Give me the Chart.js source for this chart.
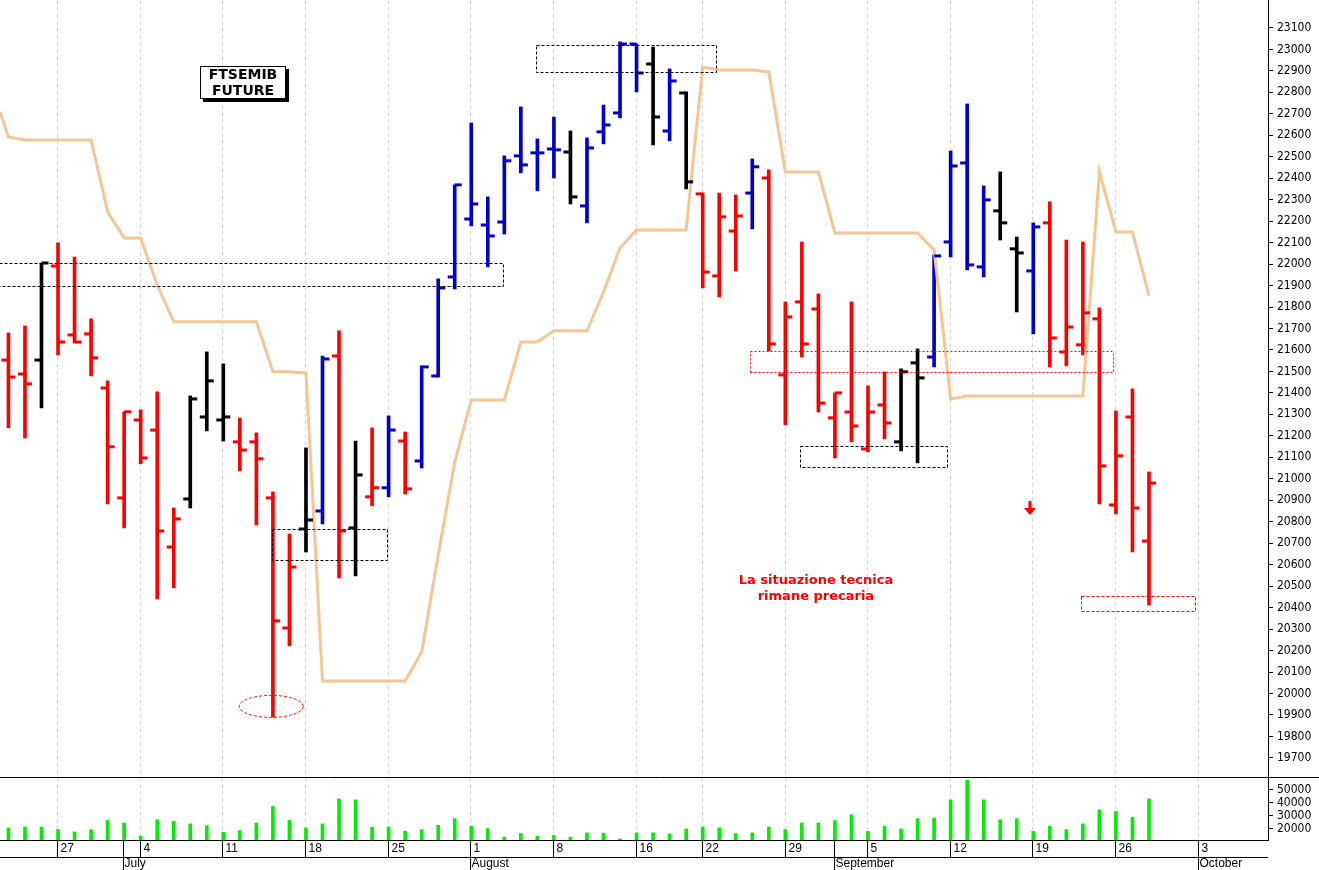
<!DOCTYPE html>
<html>
<head>
<meta charset="utf-8">
<script src="https://cdn.jsdelivr.net/npm/chart.js@4/dist/chart.umd.min.js"></script>
<style>
  body { margin:0; background:#fff; }
  #wrap { position:relative; width:1319px; height:870px; }
  canvas { position:absolute; left:0; display:block; }
</style>
</head>
<body>
<div id="wrap">
  <canvas id="price" width="1319" height="777" style="top:0"></canvas>
  <canvas id="vol" width="1319" height="93" style="top:777px"></canvas>
</div>
<script>
// daily bars, index 0 = 22 June (trading days only)
const opens  = [21553,21488,21553,21991,21670,21675,21423,20911,21274,21227,20682,20906,21288,21274,21172,21172,20911,20305,20766,20850,
                21572,20771,20916,20958,21176,21083,21479,21940,22210,22182,22196,22504,22518,22536,22522,22271,22616,22704,23025,22932,
                22620,22797,22327,21945,22154,22331,22401,21484,21824,21791,21284,21311,21139,21344,21172,21540,21567,22103,22471,21987,
                22248,22071,21968,22192,21591,21624,21745,20878,21288,20710];
const highs  = [21679,21712,22005,22099,22033,21745,21456,21312,21321,21405,20864,21386,21591,21535,21283,21214,20939,20743,21144,21572,
                21689,21176,21237,21293,21218,21526,21931,22369,22657,22313,22504,22732,22583,22685,22620,22588,22741,23035,23025,23011,
                22909,22802,22331,22331,22322,22490,22439,21824,22103,21861,21400,21824,21433,21498,21512,21605,22043,22527,22746,22364,
                22429,22126,22192,22290,22112,22103,21796,21316,21419,21032];
const lows   = [21237,21190,21330,21577,21633,21479,20883,20771,21070,20441,20492,20864,21223,21176,21037,20785,19890,20222,20659,20790,
                20538,20547,20874,20916,20929,21050,21474,21884,22178,21987,22140,22425,22341,22401,22280,22192,22560,22681,22802,22555,
                22574,22350,21889,21847,21968,22164,21595,21251,21567,21311,21097,21172,21125,21186,21130,21074,21521,22033,21973,21940,
                22112,21777,21675,21521,21526,21577,20883,20836,20659,20412];
const closes = [21474,21442,22005,21637,21637,21563,21149,21312,21097,20757,20813,21372,21456,21288,21134,21093,20338,20589,20808,21558,
                20757,21018,20958,21227,20953,21521,21889,22369,22280,22131,22481,22462,22518,22532,22313,22541,22648,23025,22890,22685,
                22853,22383,21963,22220,22224,22453,21628,21754,21628,21353,21400,21246,21311,21260,21498,21470,22038,22457,21996,22299,
                22192,22052,22173,21656,21707,21773,21060,21107,20864,20980];
// r = red, b = blue, k = black
const barColors = ('rrkrrrrrrrr' + 'kkk' + 'rrrr' + 'kbrkrbr' + 'bbbbbbbbb' + 'k' + 'bbbb' + 'kbk' + 'rrrb' +
                   'rrrrrrrr' + 'kk' + 'bbbb' + 'kk' + 'b' + 'rrrrrrr').split('');
const volumes = [20800,21500,21500,19500,17700,19500,26600,24600,14500,27100,25900,23900,22600,17400,18700,24600,37300,26600,20800,23900,
                 43100,42400,21300,21500,18200,19500,22800,27900,22100,20300,13700,16500,14500,15000,13700,17000,16800,12400,17000,17000,
                 16200,20000,21500,20800,16500,17000,21500,19500,24600,24600,26400,30900,18200,22100,20000,27900,28400,42400,57600,42400,
                 27100,27900,18200,22100,19500,23900,34800,33500,28900,43100];
// stop line (orange)
const stopLead = 22709;
const stopLine = [22592,22578,22578,22578,22578,22578,22243,22122,22122,21903,21731,21731,21731,21731,21731,21731,21498,21498,21493,20058,
                  20058,20058,20058,20058,20058,20193,20645,21078,21367,21367,21367,21637,21637,21689,21689,21689,21870,22075,22159,22159,
                  22159,22159,22918,22904,22904,22904,22895,22429,22429,22429,22145,22145,22145,22145,22145,22145,22066,21372,21386,21386,
                  21386,21386,21386,21386,21386,21386,22429,22150,22150,21852];
// week ticks on the date axis
const weekIdx    = [3,8,13,18,23,28,33,38,42,47,52,57,62,67,72];
const weekLabels = ['27','4','11','18','25','1','8','16','22','29','5','12','19','26','3'];
const monthIdx    = [7,28,50,72];
const monthLabels = ['July','August','September','October'];

const colorMap = { r:'#ff0000', b:'#0000cc', k:'#000000' };
const X_MIN = -0.51, X_MAX = 76.2;
const AXIS_FONT = { family:'"Liberation Sans Narrow", "DejaVu Sans Condensed", Arial', size:12 };

function fixWidth(scale){ scale.width = 51; scale.paddingTop = 0; scale.paddingBottom = 0; }
const plainNum = v => String(v);

const ohlcTicks = {
  id:'ohlcTicks',
  afterDatasetsDraw(chart){
    const ctx = chart.ctx, xs = chart.scales.x, ys = chart.scales.y;
    ctx.save();
    ctx.lineWidth = 3;
    for (let i = 0; i < opens.length; i++){
      const x = xs.getPixelForValue(i);
      ctx.strokeStyle = colorMap[barColors[i]];
      let yo = ys.getPixelForValue(opens[i]), yc = ys.getPixelForValue(closes[i]);
      ctx.beginPath(); ctx.moveTo(x-7,yo); ctx.lineTo(x,yo); ctx.stroke();
      ctx.beginPath(); ctx.moveTo(x,yc); ctx.lineTo(x+7,yc); ctx.stroke();
    }
    ctx.restore();
  }
};

// dashed week lines behind the marks (both panels)
const weekGrid = {
  id:'weekGrid',
  beforeDatasetsDraw(chart){
    const ctx = chart.ctx, xs = chart.scales.x, a = chart.chartArea;
    ctx.save();
    ctx.strokeStyle = '#d8d8d8'; ctx.lineWidth = 1; ctx.setLineDash([4,3]);
    weekIdx.forEach(i => {
      const x = Math.round(xs.getPixelForValue(i - 0.05)) + 0.5;
      ctx.beginPath(); ctx.moveTo(x,a.top); ctx.lineTo(x,a.bottom); ctx.stroke();
    });
    ctx.restore();
  }
};

const notes = {
  id:'notes',
  afterDraw(chart){
    const ctx = chart.ctx, xs = chart.scales.x, ys = chart.scales.y;
    const px = v => xs.getPixelForValue(v), py = v => ys.getPixelForValue(v);
    ctx.save();
    function box(i0,i1,p0,p1,color,dash){
      ctx.strokeStyle = color; ctx.lineWidth = 1; ctx.setLineDash(dash);
      ctx.strokeRect(Math.round(px(i0))+0.5, Math.round(py(p0))+0.5, Math.round(px(i1)-px(i0)), Math.round(py(p1)-py(p0)));
    }
    box(-0.6,29.9,22005,21898,'#000',[3,2]);
    box(15.95,22.9,20766,20622,'#000',[3,2]);
    box(31.9,42.8,23020,22895,'#000',[3,2]);
    box(47.9,56.8,21153,21055,'#000',[3,2]);
    box(64.9,71.8,20455,20385,'#ff0000',[3,2]);
    // support band
    ctx.setLineDash([2,2]); ctx.lineWidth = 1;
    let xa = Math.round(px(44.85))+0.5, xb = Math.round(px(66.85))+0.5;
    let yg = Math.round(py(21595))+0.5, yr = Math.round(py(21498))+0.5;
    ctx.strokeStyle = '#008800';
    ctx.beginPath(); ctx.moveTo(xa,yg); ctx.lineTo(xb,yg); ctx.stroke();
    ctx.strokeStyle = '#ff0000';
    ctx.beginPath(); ctx.moveTo(xa,yr); ctx.lineTo(xa,yg); ctx.moveTo(xa,yr); ctx.lineTo(xb,yr); ctx.lineTo(xb,yg); ctx.stroke();
    // ellipse around the low
    ctx.strokeStyle = '#ff0000'; ctx.setLineDash([3,2]);
    ctx.beginPath(); ctx.ellipse(px(15.9), py(19940), 32, 11, 0, 0, Math.PI*2); ctx.stroke();
    // arrow
    ctx.setLineDash([]); ctx.fillStyle = '#ff0000';
    const ax = px(61.8), ay = py(20850);
    ctx.fillRect(ax-1.5, ay-10, 3, 8);
    ctx.beginPath(); ctx.moveTo(ax-6,ay-3); ctx.lineTo(ax+6,ay-3); ctx.lineTo(ax,ay+4); ctx.closePath(); ctx.fill();
    // comment
    ctx.font = 'bold 13px "DejaVu Sans", Verdana'; ctx.textAlign = 'center'; ctx.textBaseline = 'middle';
    ctx.fillText('La situazione tecnica', px(48.85), py(20525));
    ctx.fillText('rimane precaria', px(48.85), py(20450));
    // title box
    ctx.fillStyle = '#000'; ctx.fillRect(203, 69, 86, 33);
    ctx.fillStyle = '#fff'; ctx.fillRect(200, 66, 86, 33);
    ctx.strokeStyle = '#000'; ctx.strokeRect(200.5, 66.5, 85, 32);
    ctx.fillStyle = '#000'; ctx.font = 'bold 14px "DejaVu Sans", Verdana';
    ctx.fillText('FTSEMIB', 243, 75);
    ctx.fillText('FUTURE', 243, 91);
    ctx.restore();
  }
};

const priceChart = new Chart(document.getElementById('price'), {
  type:'bar',
  data:{
    datasets:[
      { type:'line', order:0,
        data:[{x:X_MIN,y:stopLead}].concat(stopLine.map((v,i)=>({x:i,y:v}))),
        borderColor:'#f5c693', borderWidth:3, pointRadius:0, tension:0 },
      { type:'bar', order:1,
        data:highs.map((h,i)=>({x:i,y:[lows[i],h]})),
        backgroundColor:barColors.map(c=>colorMap[c]),
        barThickness:3, borderSkipped:false }
    ]
  },
  options:{
    responsive:false, animation:false, devicePixelRatio:1,
    layout:{ padding:0 },
    plugins:{ legend:{display:false}, tooltip:{enabled:false} },
    scales:{
      x:{ type:'linear', min:X_MIN, max:X_MAX, offset:false, display:false },
      y:{ position:'right', min:19611, max:23230,
          afterFit:fixWidth,
          afterBuildTicks(s){ const t=[]; for(let v=19700; v<=23100; v+=100) t.push({value:v}); s.ticks=t; },
          ticks:{ color:'#000', font:AXIS_FONT, padding:4, callback:plainNum },
          grid:{ drawOnChartArea:false, tickLength:5, color:'#000' },
          border:{ display:true, color:'#000' } }
    }
  },
  plugins:[weekGrid, ohlcTicks, notes]
});

const dateAxis = {
  id:'dateAxis',
  afterDraw(chart){
    const ctx = chart.ctx, xs = chart.scales.x, a = chart.chartArea;
    ctx.save();
    ctx.strokeStyle = '#000'; ctx.lineWidth = 1;
    ctx.beginPath(); ctx.moveTo(0,0.5); ctx.lineTo(1319,0.5); ctx.stroke();
    ctx.beginPath(); ctx.moveTo(0,a.bottom+0.5); ctx.lineTo(a.right,a.bottom+0.5); ctx.stroke();
    ctx.beginPath(); ctx.moveTo(0,a.bottom+17.5); ctx.lineTo(a.right,a.bottom+17.5); ctx.stroke();
    ctx.fillStyle = '#000'; ctx.font = '12px "Liberation Sans Narrow", Arial'; ctx.textBaseline = 'middle'; ctx.textAlign = 'left';
    weekIdx.forEach((i,k) => {
      const x = Math.round(xs.getPixelForValue(i - 0.05)) + 0.5;
      ctx.beginPath(); ctx.moveTo(x,a.bottom); ctx.lineTo(x,a.bottom+17); ctx.stroke();
      ctx.fillText(weekLabels[k], x+3, a.bottom+9);
    });
    monthIdx.forEach((i,k) => {
      const x = Math.round(xs.getPixelForValue(i - 0.05)) + 0.5;
      ctx.beginPath(); ctx.moveTo(x,a.bottom); ctx.lineTo(x,a.bottom+30); ctx.stroke();
      ctx.fillText(monthLabels[k], x+1, a.bottom+24);
    });
    ctx.restore();
  }
};

const volChart = new Chart(document.getElementById('vol'), {
  type:'bar',
  data:{ datasets:[{ data:volumes.map((v,i)=>({x:i,y:v})), backgroundColor:'#00ee00', barThickness:3 }] },
  options:{
    responsive:false, animation:false, devicePixelRatio:1,
    layout:{ padding:{ top:0, bottom:30 } },
    plugins:{ legend:{display:false}, tooltip:{enabled:false} },
    scales:{
      x:{ type:'linear', min:X_MIN, max:X_MAX, offset:false, display:false },
      y:{ position:'right', min:11500, max:60000,
          afterFit:fixWidth,
          afterBuildTicks(s){ s.ticks=[20000,30000,40000,50000].map(v=>({value:v})); },
          ticks:{ color:'#000', font:AXIS_FONT, padding:4, callback:plainNum },
          grid:{ drawOnChartArea:false, tickLength:5, color:'#000' },
          border:{ display:true, color:'#000' } }
    }
  },
  plugins:[weekGrid, dateAxis]
});
</script>
</body>
</html>
